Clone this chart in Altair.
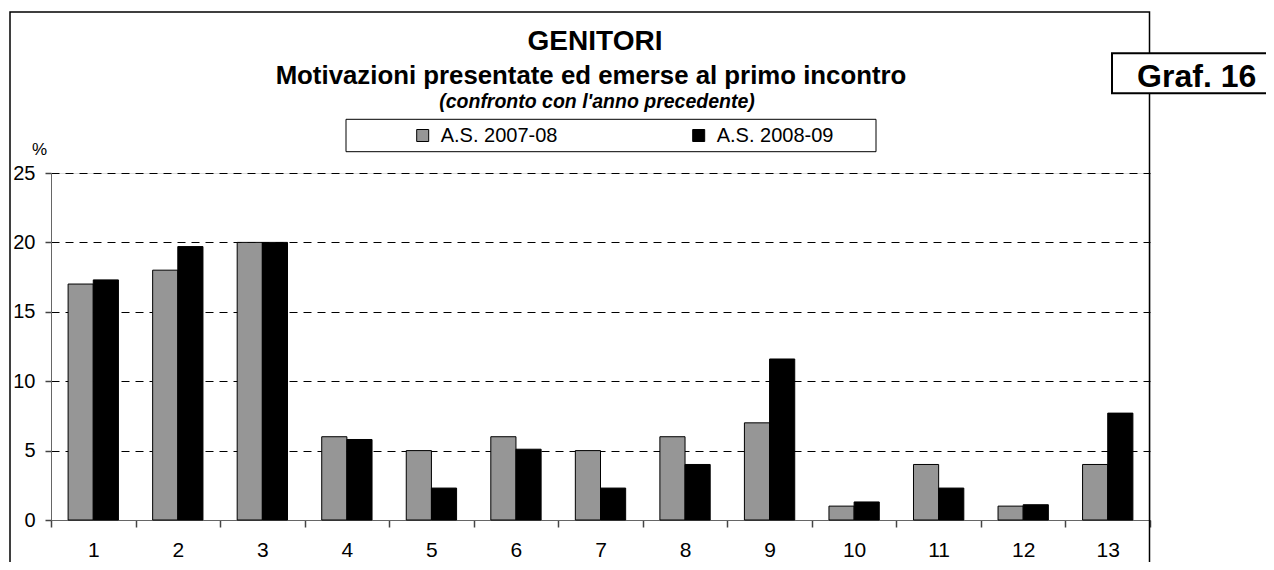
import altair as alt
import pandas as pd

# ---------------- data ----------------
categories = [str(i) for i in range(1, 14)]
series_names = ["A.S. 2007-08", "A.S. 2008-09"]
values_0708 = [17, 18, 20, 6, 5, 6, 5, 6, 7, 1, 4, 1, 4]
values_0809 = [17.3, 19.7, 20, 5.8, 2.3, 5.1, 2.3, 4, 11.6, 1.3, 2.3, 1.1, 7.7]
y_ticks = [0, 5, 10, 15, 20, 25]

title_text = "GENITORI"
subtitle_text = "Motivazioni presentate ed emerse al primo incontro"
note_text = "(confronto con l'anno precedente)"
tag_text = "Graf. 16"
unit_text = "%"

rows = []
for s_name, vals in zip(series_names, [values_0708, values_0809]):
    for c, v in zip(categories, vals):
        rows.append({"cat": c, "series": s_name, "value": v})
df = pd.DataFrame(rows)

FONT = "Liberation Sans"
W, H = 1099, 347

one = pd.DataFrame({"k": [0]})

# outer frame of the chart (decoration)
frame = alt.Chart(one).mark_rect(fill=None, stroke="black", strokeWidth=1.5).encode(
    x=alt.value(-41), x2=alt.value(1098.5), y=alt.value(-161), y2=alt.value(460)
)

# legend box (decoration)
legend_box = alt.Chart(one).mark_rect(fill=None, stroke="black", strokeWidth=1).encode(
    x=alt.value(295), x2=alt.value(825), y=alt.value(-53.7), y2=alt.value(-21.3)
)

bars = alt.Chart(df).mark_bar(stroke="black", strokeWidth=1).encode(
    x=alt.X(
        "cat:N",
        sort=categories,
        scale=alt.Scale(paddingInner=0, paddingOuter=0),
        axis=alt.Axis(
            title=None, labelAngle=0, tickBand="extent", grid=False, ticks=True,
            labelFontSize=21, labelPadding=12, labelColor="black",
            tickSize=7, tickWidth=1.5, tickColor="#444444", domainColor="#666666",
        ),
    ),
    xOffset=alt.XOffset(
        "series:N", sort=series_names,
        scale=alt.Scale(paddingOuter=0.68, paddingInner=0),
    ),
    y=alt.Y(
        "value:Q",
        scale=alt.Scale(domain=[0, 25], nice=False),
        axis=alt.Axis(
            values=y_ticks, title=unit_text, titleAngle=0, titleX=-12, titleY=-24,
            titleFontSize=17, titleFontWeight="normal", titleAlign="center",
            titleBaseline="middle", titleColor="black", ticks=True,
            grid=True, gridDash=[8, 6], gridColor="black", gridWidth=1,
            labelFontSize=20, labelPadding=10, labelColor="black",
            tickSize=6, tickWidth=1.5, tickColor="#444444", domainColor="#666666",
        ),
    ),
    color=alt.Color(
        "series:N", sort=series_names,
        scale=alt.Scale(domain=series_names, range=["#969696", "#000000"]),
        legend=alt.Legend(
            title=None, orient="none", legendX=361.7, legendY=-47.5,
            direction="horizontal", symbolType="square", symbolSize=144,
            symbolStrokeColor="black", symbolStrokeWidth=1,
            labelFontSize=20, labelOffset=8, columnPadding=131, padding=0,
            labelColor="black",
        ),
    ),
)

graf_box = alt.Chart(one).mark_rect(fill="white", stroke="black", strokeWidth=2).encode(
    x=alt.value(1061), x2=alt.value(1240), y=alt.value(-119.7), y2=alt.value(-79.7)
)

def text_layer(txt, x, y, size, weight="bold", style="normal"):
    return alt.Chart(pd.DataFrame({"t": [txt]})).mark_text(
        font=FONT, fontSize=size, fontWeight=weight, fontStyle=style,
        align="center", baseline="alphabetic", color="black",
    ).encode(text="t:N", x=alt.value(x), y=alt.value(y))

t_title = text_layer(title_text, 544, -123, 28)
t_sub = text_layer(subtitle_text, 540, -89.5, 25.8)
t_note = text_layer(note_text, 546, -65, 19.5, style="italic")
t_tag = text_layer(tag_text, 1145.7, -86.3, 32)

chart = alt.layer(
    frame, legend_box, bars, graf_box, t_title, t_sub, t_note, t_tag
).properties(
    width=W, height=H,
    padding={"left": 43, "top": 165, "right": 116, "bottom": 42},
    autosize=alt.AutoSizeParams(type="none"),
    background="white",
).configure_view(stroke=None).configure(font=FONT)

chart.save("out.html", embed_options={"renderer": "svg", "actions": False})
